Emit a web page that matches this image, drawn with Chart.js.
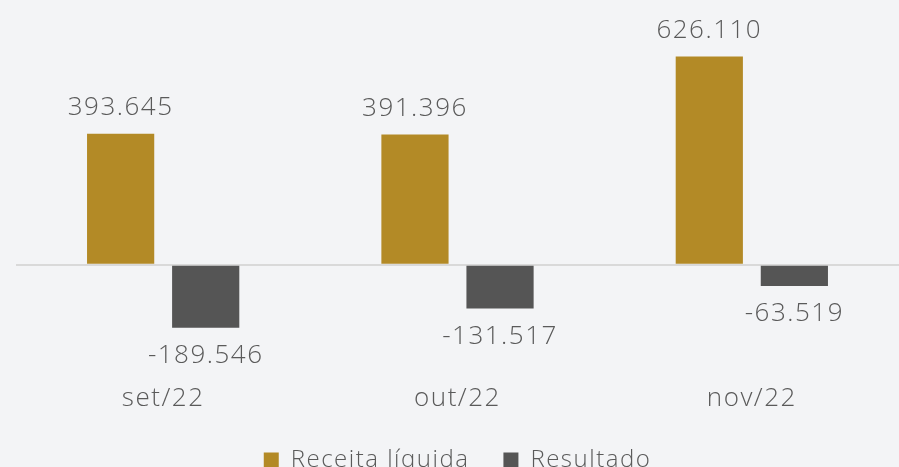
<!DOCTYPE html>
<html>
<head>
<meta charset="utf-8">
<script src="https://cdn.jsdelivr.net/npm/chart.js@4.4.0/dist/chart.umd.min.js"></script>
<style>
  html, body { margin: 0; padding: 0; background: #f3f4f6; }
  #wrap { width: 899px; height: 467px; }
</style>
</head>
<body>
<div id="wrap"><canvas id="chart"></canvas></div>
<script>
  // dados do gráfico
  const months = ["set/22", "out/22", "nov/22"];
  const receita = [393645, 391396, 626110];
  const resultado = [-189546, -131517, -63519];

  const gold = "#b38a26";
  const grey = "#555555";
  const textColor = "#5a5a5a";
  const fontFamily = "'Open Sans', 'DejaVu Sans', sans-serif";
  const spacing = "1.5px";

  // formata número no padrão brasileiro (ponto como milhar)
  function fmt(v) {
    const s = Math.abs(v).toString().replace(/\B(?=(\d{3})+(?!\d))/g, ".");
    return (v < 0 ? "-" : "") + s;
  }

  // fundo do canvas + espaçamento entre letras
  const bgPlugin = {
    id: "bg",
    beforeUpdate(chart) {
      chart.ctx.letterSpacing = spacing;
    },
    beforeDraw(chart) {
      const c = chart.ctx;
      c.letterSpacing = spacing;
      c.save();
      c.fillStyle = "#f3f4f6";
      c.fillRect(0, 0, chart.width, chart.height);
      c.restore();
    }
  };

  // rótulos de valor acima / abaixo das barras
  const valueLabels = {
    id: "valueLabels",
    afterDatasetsDraw(chart) {
      const c = chart.ctx;
      c.save();
      c.letterSpacing = spacing;
      c.font = "300 26px " + fontFamily;
      c.fillStyle = textColor;
      c.textAlign = "center";
      chart.data.datasets.forEach((ds, i) => {
        chart.getDatasetMeta(i).data.forEach((bar, j) => {
          const v = ds.data[j];
          if (v >= 0) {
            c.textBaseline = "alphabetic";
            c.fillText(fmt(v), bar.x, bar.y - 19);
          } else {
            c.textBaseline = "top";
            c.fillText(fmt(v), bar.x, bar.y + 15);
          }
        });
      });
      c.restore();
    }
  };

  new Chart(document.getElementById("chart"), {
    type: "bar",
    data: {
      labels: months,
      datasets: [
        {
          label: "Receita líquida",
          data: receita,
          backgroundColor: gold,
          categoryPercentage: 0.578,
          barPercentage: 0.79
        },
        {
          label: "Resultado",
          data: resultado,
          backgroundColor: grey,
          categoryPercentage: 0.578,
          barPercentage: 0.79
        }
      ]
    },
    options: {
      responsive: true,
      maintainAspectRatio: false,
      animation: false,
      layout: { padding: { left: 16, right: 0, top: 32, bottom: -15 } },
      plugins: {
        legend: {
          position: "bottom",
          labels: {
            color: textColor,
            font: { family: fontFamily, size: 24, weight: "300" },
            boxWidth: 15,
            boxHeight: 15,
            padding: 34
          }
        },
        tooltip: { enabled: false }
      },
      scales: {
        x: {
          grid: { display: false, drawTicks: false },
          border: { display: false },
          ticks: {
            color: textColor,
            font: { family: fontFamily, size: 26, weight: "300" },
            padding: 0
          }
        },
        y: {
          min: -355000,
          max: 700000,
          border: { display: false },
          grid: {
            drawTicks: false,
            color: (ctx) => (ctx.tick && ctx.tick.value === 0 ? "#d9d9d9" : "rgba(0,0,0,0)"),
            lineWidth: 2
          },
          ticks: { display: false, stepSize: 5000 }
        }
      }
    },
    plugins: [bgPlugin, valueLabels]
  });
</script>
</body>
</html>
